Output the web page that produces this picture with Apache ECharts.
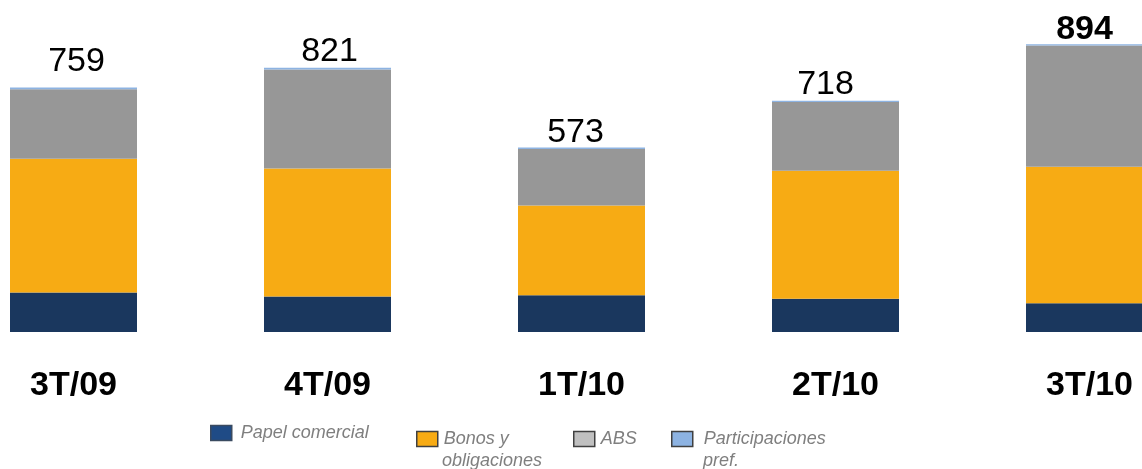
<!DOCTYPE html>
<html>
<head>
<meta charset="utf-8">
<script src="https://cdn.jsdelivr.net/npm/echarts@6/dist/echarts.min.js"></script>
<style>
  html, body { margin: 0; padding: 0; background: #ffffff; }
  #chart { width: 1142px; height: 469px; }
</style>
</head>
<body>
<div id="chart"></div>
<script>
// trimestres
const categories = ['3T/09', '4T/09', '1T/10', '2T/10', '3T/10'];

// series (apiladas de abajo a arriba)
const papelComercial = [123, 110, 114, 103, 89];
const bonosObligaciones = [415, 398, 279, 398, 424];
const abs = [216, 307, 175, 213, 377];
const participaciones = [5, 6, 5, 4, 4];

// totales que se muestran encima
const totals = [759, 821, 573, 718, 894];

const seriesNames = ['Papel comercial', 'Bonos y\nobligaciones', 'ABS', 'Participaciones\npref.'];
const colors = ['#1a375e', '#f7ab14', '#979797', '#8db3e2'];
// la leyenda usa tonos algo distintos
const legendColors = ['#1f4b86', '#f7ab14', '#c0c0c0', '#8db3e2'];

const FONT = 'Liberation Sans, Arial, sans-serif';
const LEGEND_TXT = { color: '#7f7f7f', fontStyle: 'italic', fontSize: 18, fontFamily: FONT };

const chart = echarts.init(document.getElementById('chart'));

// ajustes finos de la etiqueta de total por barra
const labelDist = [9, -1, -2, -1, -2];
const labelOffX = [3, 2, -6, -10, -5];

const topData = participaciones.map((v, i) => ({
  value: v,
  label: {
    distance: labelDist[i],
    offset: [labelOffX[i], 0],
    fontWeight: i === totals.length - 1 ? 'bold' : 'normal'
  }
}));

// una leyenda por elemento para colocarlas como en el original
function legendFor(idx, left, top, gap) {
  return {
    data: [seriesNames[idx]],
    left: left,
    top: top,
    padding: 0,
    itemWidth: 21,
    itemHeight: 15,
    icon: 'rect',
    selectedMode: false,
    formatter: (name) => name.split('\n')[0],
    itemStyle: {
      color: legendColors[idx],
      borderColor: idx === 0 ? '#3a4a60' : '#404040',
      borderWidth: 1.5
    },
    textStyle: Object.assign({ padding: [3, 0, 0, gap] }, LEGEND_TXT)
  };
}

function secondLine(idx, left) {
  return {
    type: 'text',
    left: left,
    top: 452,
    style: {
      text: seriesNames[idx].split('\n')[1],
      fill: '#7f7f7f',
      font: 'italic 18px ' + FONT
    }
  };
}

const option = {
  backgroundColor: '#ffffff',
  animation: false,
  color: colors,
  grid: { left: 73.5, width: 1016, top: 10, height: 322 },
  legend: [
    legendFor(0, 210, 424, 4),
    legendFor(1, 416, 430, 1),
    legendFor(2, 573, 430, 1),
    legendFor(3, 671, 430, 6)
  ],
  graphic: [
    secondLine(1, 442),
    secondLine(3, 703)
  ],
  xAxis: {
    type: 'category',
    data: categories,
    boundaryGap: false,
    axisLine: { show: false },
    axisTick: { show: false },
    axisLabel: {
      margin: 37,
      color: '#000000',
      fontSize: 34,
      fontWeight: 'bold',
      fontFamily: FONT
    }
  },
  yAxis: {
    type: 'value',
    min: 0,
    max: 1000,
    show: false,
    splitLine: { show: false }
  },
  series: [
    {
      name: seriesNames[0], type: 'bar', stack: 'total', barWidth: 127,
      data: papelComercial, itemStyle: { color: colors[0] }
    },
    {
      name: seriesNames[1], type: 'bar', stack: 'total', barWidth: 127,
      data: bonosObligaciones, itemStyle: { color: colors[1] }
    },
    {
      name: seriesNames[2], type: 'bar', stack: 'total', barWidth: 127,
      data: abs, itemStyle: { color: colors[2] }
    },
    {
      name: seriesNames[3], type: 'bar', stack: 'total', barWidth: 127,
      data: topData, itemStyle: { color: colors[3] },
      label: {
        show: true,
        position: 'top',
        color: '#000000',
        fontSize: 34,
        fontFamily: FONT,
        formatter: (p) => String(totals[p.dataIndex])
      }
    }
  ]
};

chart.setOption(option);
</script>
</body>
</html>
